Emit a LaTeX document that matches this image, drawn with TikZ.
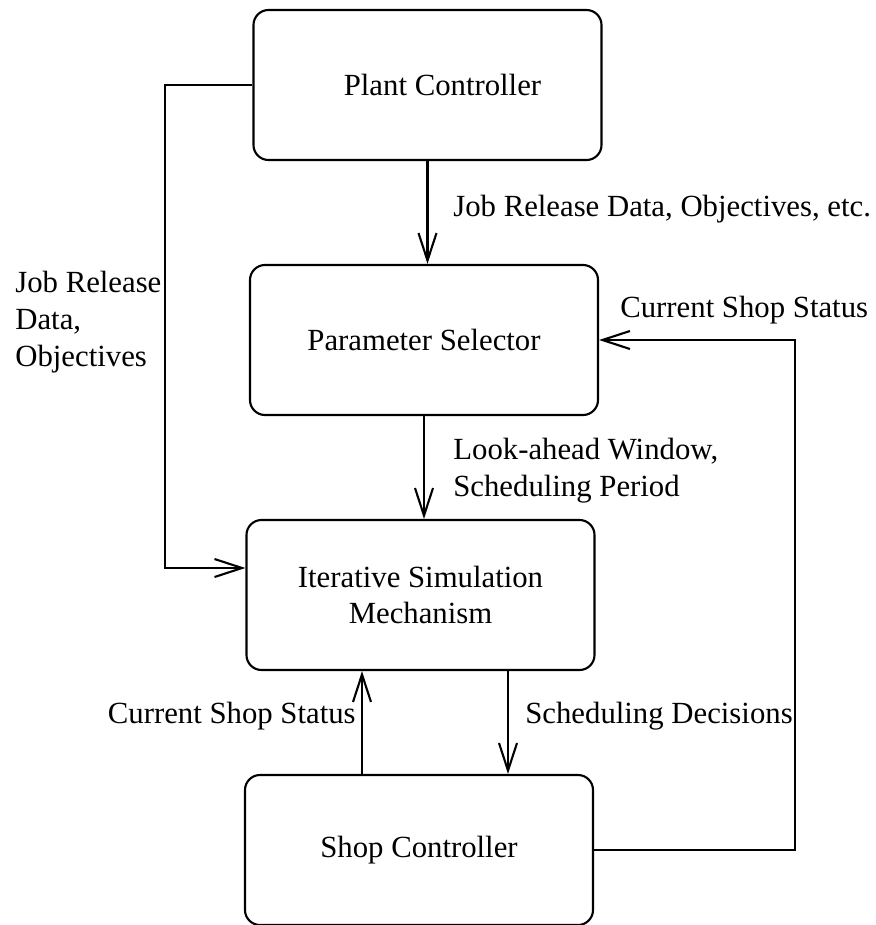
\documentclass[tikz,border=0pt]{standalone}
\usepackage{fontspec}
\setmainfont{Liberation Serif}
\usetikzlibrary{arrows.meta}
\tikzset{
  block/.style={draw, line width=1.2pt, rounded corners=0.3cm,
    minimum width=6.96cm, minimum height=3cm, align=center},
  flow/.style={line width=1.2pt,
    -{Straight Barb[length=5.5mm,width=3.6mm,line width=1.2pt]}},
  note/.style={anchor=west, align=left, inner sep=0pt}
}
\begin{document}
\begin{tikzpicture}[font=\fontsize{17.5}{21}\selectfont]
    \useasboundingbox (0,0) rectangle (17.52,-18.5);
    \node[block] (plant) at (8.55,-1.7) {\hspace*{0.6cm}Plant Controller};
    \node[block] (param) at (8.48,-6.8) {Parameter Selector};
    \node[block] (iter) at (8.41,-11.9) {Iterative Simulation\\Mechanism};
    \node[block] (shop) at (8.38,-17.0) {Shop Controller};
    % bends of the two feedback lines
    \coordinate (jobbend) at (3.3,-1.7);
    \coordinate (jobin) at ([yshift=0.54cm]iter.west);
    \coordinate (statbend) at (15.9,-17.0);
    \coordinate (decide) at ([xshift=1.75cm]iter.south);
    \coordinate (report) at ([xshift=-1.17cm]iter.south);
    \draw[flow] (plant.south) -- (plant.south |- param.north);
    \draw[flow] (param.south) -- (param.south |- iter.north);
    \draw[flow] (decide) -- (decide |- shop.north);
    \draw[flow] (report |- shop.north) -- (report);
    \draw[flow] (plant.west) -- (jobbend) |- (jobin);
    \draw[flow] (shop.east) -- (statbend) |- (param.east);
    \node[note] (relnote) at (9.06,-4.18) {Job Release Data, Objectives, etc.};
    \node[note] (jobnote) at (0.3,-6.45) {Job Release\\Data,\\Objectives};
    \node[note] (statnote) at (12.4,-6.2) {Current Shop Status};
    \node[note] (looknote) at (9.06,-9.42) {Look-ahead Window,\\Scheduling Period};
    \node[note] (decnote) at (10.5,-14.32) {Scheduling Decisions};
    \node[note, anchor=east] (shopnote) at (7.12,-14.32) {Current Shop Status};
\end{tikzpicture}
\end{document}
